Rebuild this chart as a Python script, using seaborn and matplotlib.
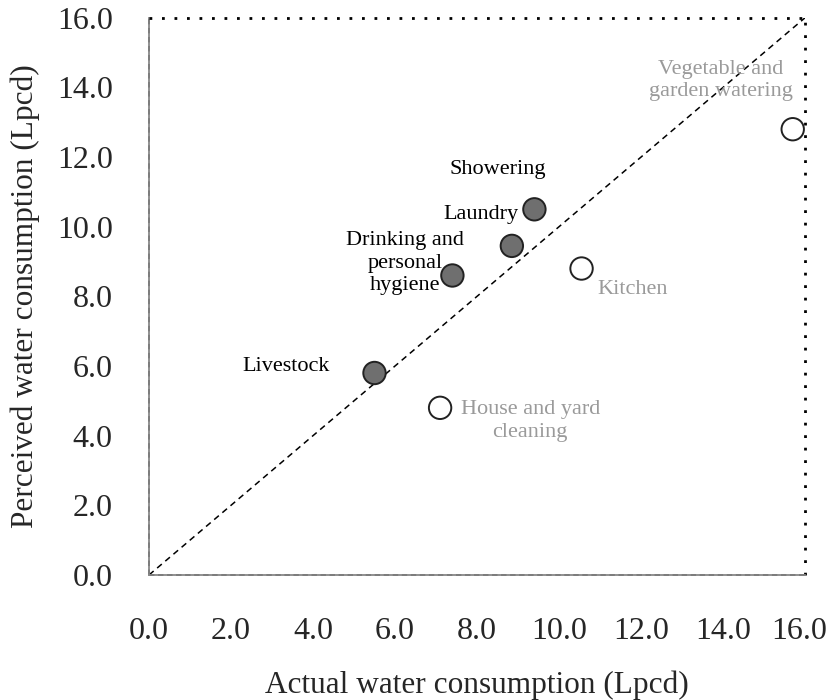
import numpy as np
import pandas as pd
import matplotlib
matplotlib.use("Agg")
import matplotlib.pyplot as plt
import matplotlib.transforms as mtransforms
import seaborn as sns

# Data
uses = ["Livestock", "Drinking and\npersonal\nhygiene", "Laundry", "Showering",
        "Kitchen", "House and yard\ncleaning", "Vegetable and\ngarden watering"]
actual = [5.5, 7.4, 8.85, 9.4, 10.55, 7.1, 15.7]
perceived = [5.8, 8.6, 9.45, 10.5, 8.8, 4.8, 12.8]
kind = ["over", "over", "over", "over", "under", "under", "under"]

# label positions (data units)
label_x = [3.35, 6.25, 8.1, 8.5, 11.8, 9.3, 13.95]
label_y = [6.0, 8.95, 10.35, 11.65, 8.2, 4.42, 14.2]

df = pd.DataFrame({"use": uses, "actual": actual, "perceived": perceived, "kind": kind})

sns.set_style("white")
plt.rcParams['font.family'] = ['Liberation Serif', 'DejaVu Serif']

fig = plt.figure(figsize=(8.3, 7), dpi=100)
ax = fig.add_axes([0.1795, 0.1786, 0.7904, 0.796])

# 1:1 line
ax.plot([0, 16], [0, 16], ls=(0, (4, 3)), color="black", lw=1.1, zorder=1)

sns.scatterplot(data=df, x="actual", y="perceived", hue="kind",
                palette={"over": "#6f6f6f", "under": "white"},
                edgecolor="#222222", linewidth=1.4, s=260, legend=False,
                ax=ax, zorder=3, clip_on=False)

for i, lab in enumerate(uses):
    col = "black" if kind[i] == "over" else "#9a9a9a"
    ax.text(label_x[i], label_y[i], lab, ha="center", va="center",
            fontsize=16, color=col, linespacing=1.25)

ax.set_xlim(0, 16)
ax.set_ylim(0, 16)
ticks = np.arange(0, 17, 2)
ax.set_xticks(ticks)
ax.set_yticks(ticks)
ax.set_xticklabels([f"{t:.1f}" for t in ticks])
ax.set_yticklabels([f"{t:.1f}" for t in ticks])
ax.tick_params(direction="in", length=10, width=1.2, color="#777777",
               labelsize=23)
ax.tick_params(axis="x", pad=30)
ax.tick_params(axis="y", pad=26)

# keep the last x label inside the figure
last = ax.get_xticklabels()[-1]
last.set_transform(last.get_transform() +
                   mtransforms.ScaledTranslation(-6 / 100, 0, fig.dpi_scale_trans))

for s in ["left", "bottom"]:
    ax.spines[s].set_color("#888888")
    ax.spines[s].set_linewidth(1.3)
    ax.spines[s].set_visible(True)
ax.axvline(0, ls=(0, (3, 2)), color="black", lw=1.3, clip_on=False, zorder=2)
ax.axhline(0, ls=(0, (3, 2)), color="black", lw=1.3, clip_on=False, zorder=2)
for s in ["top", "right"]:
    ax.spines[s].set_visible(True)
    ax.spines[s].set_color("black")
    ax.spines[s].set_linestyle((0, (1, 3.5)))
    ax.spines[s].set_linewidth(2)
    ax.spines[s].set_capstyle("butt")

ax.set_xlabel("Actual water consumption (Lpcd)", fontsize=22.5, labelpad=18)
ax.set_ylabel("Perceived water consumption (Lpcd)", fontsize=22.5, labelpad=12)

fig.savefig("out.png", dpi=100)
